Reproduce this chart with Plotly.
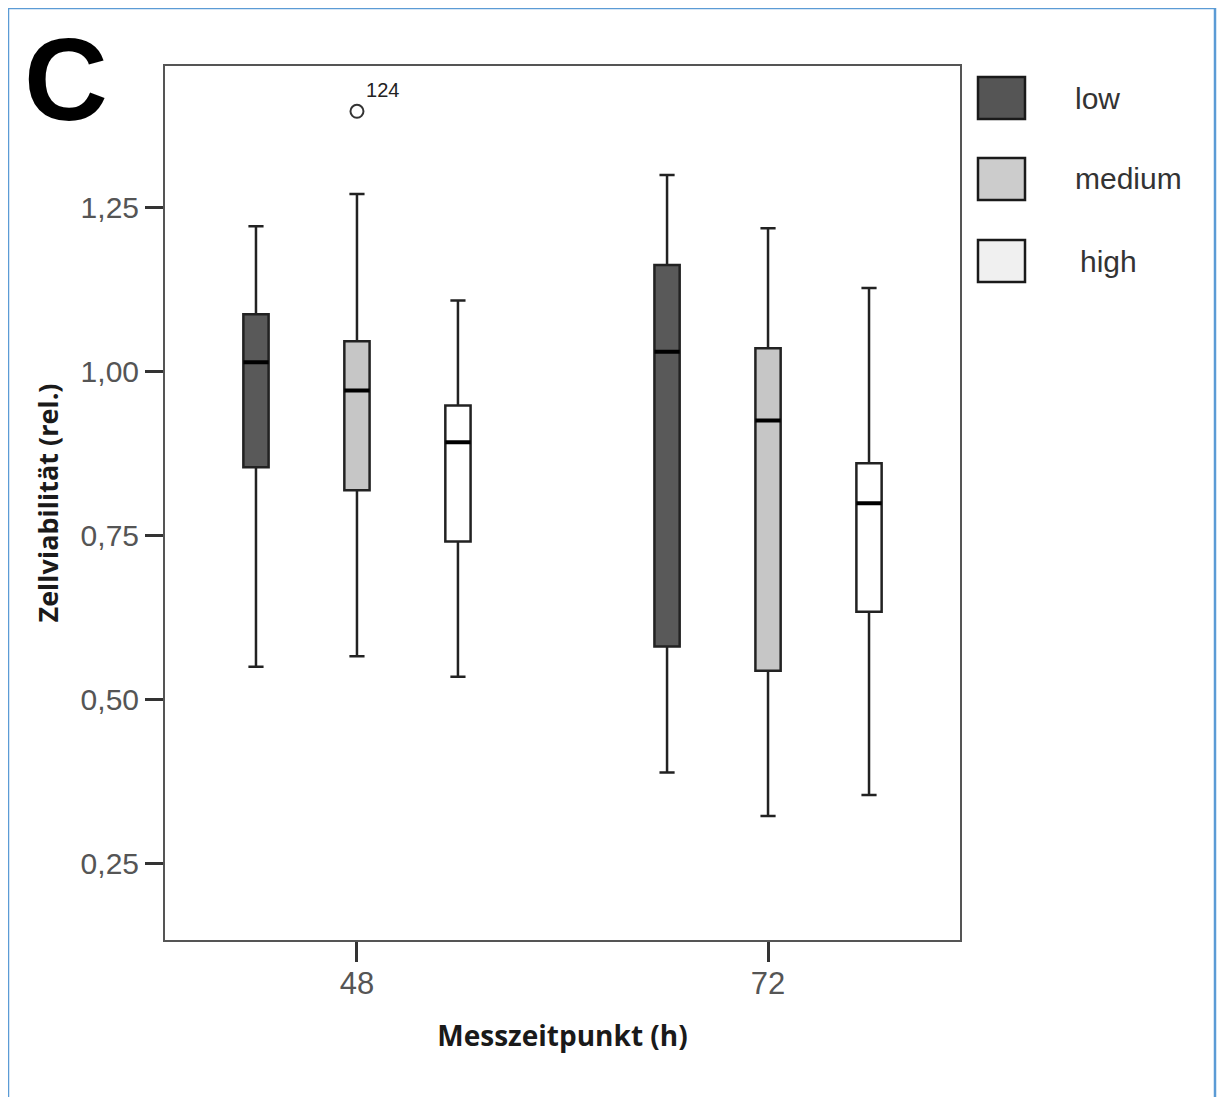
import plotly.graph_objects as go

# ---- data ----
categories = ["48", "72"]
groups = ["low", "medium", "high"]

low_lower = [0.550, 0.389]
low_q1 = [0.854, 0.581]
low_median = [1.014, 1.030]
low_q3 = [1.087, 1.162]
low_upper = [1.221, 1.299]

medium_lower = [0.566, 0.323]
medium_q1 = [0.819, 0.544]
medium_median = [0.971, 0.925]
medium_q3 = [1.046, 1.035]
medium_upper = [1.270, 1.218]

high_lower = [0.535, 0.355]
high_q1 = [0.741, 0.634]
high_median = [0.892, 0.799]
high_q3 = [0.948, 0.860]
high_upper = [1.108, 1.127]

outlier_x = ["48"]
outlier_y = [1.396]
outlier_label = ["124"]

y_ticks = [0.25, 0.50, 0.75, 1.00, 1.25]

stats = {
    "low": (low_lower, low_q1, low_median, low_q3, low_upper),
    "medium": (medium_lower, medium_q1, medium_median, medium_q3, medium_upper),
    "high": (high_lower, high_q1, high_median, high_q3, high_upper),
}
box_fill = {"low": "#595959", "medium": "#c6c6c6", "high": "#ffffff"}
legend_fill = {"low": "#555555", "medium": "#cccccc", "high": "#f0f0f0"}

fig = go.Figure()
for g in groups:
    lo, q1, med, q3, up = stats[g]
    fig.add_trace(go.Box(
        x=categories, q1=q1, median=med, q3=q3, lowerfence=lo, upperfence=up,
        name=g, offsetgroup=g, alignmentgroup="a",
        fillcolor=box_fill[g], line=dict(color="#222222", width=2.5),
        whiskerwidth=0.6, showlegend=False, boxpoints=False, hoverinfo="skip",
    ))
    # thicker median line overlay
    fig.add_trace(go.Box(
        x=categories, q1=med, median=med, q3=med, lowerfence=med, upperfence=med,
        name=g + "_med", offsetgroup=g, alignmentgroup="a",
        fillcolor="rgba(0,0,0,0)", line=dict(color="#000000", width=4),
        whiskerwidth=0, showlegend=False, boxpoints=False, hoverinfo="skip",
    ))

fig.add_trace(go.Scatter(
    x=outlier_x, y=outlier_y, mode="markers+text", text=outlier_label,
    textposition="top right", textfont=dict(size=20, color="#222222", family="Liberation Sans, Arial"),
    marker=dict(symbol="circle-open", size=13, line=dict(color="#333333", width=2), color="#333333"),
    showlegend=False, hoverinfo="skip",
))

# page body offset compensation (8px)
OFF = 8
W, H = 1226 - OFF, 1097 - OFF
L, T = 165 - OFF, 66 - OFF
R = W - L - 795
B = H - T - 874
pw = W - L - R
ph = H - T - B


def px_x(p):
    return (p - OFF - L) / pw


def px_y(p):
    return (T + ph - (p - OFF)) / ph


shapes = []
annotations = []
# custom legend
leg_rows = {"low": 98, "medium": 179, "high": 261}
leg_text_x = {"low": 1073, "medium": 1073, "high": 1078}
for g in groups:
    cy = leg_rows[g]
    shapes.append(dict(type="rect", xref="paper", yref="paper",
                       x0=px_x(978), x1=px_x(1025), y0=px_y(cy + 21), y1=px_y(cy - 21),
                       fillcolor=legend_fill[g], line=dict(color="#1a1a1a", width=2.5)))
    annotations.append(dict(xref="paper", yref="paper", x=px_x(leg_text_x[g]), y=px_y(cy),
                            text=g, showarrow=False, xanchor="left", yanchor="middle",
                            font=dict(size=30, color="#333333", family="Liberation Sans, Arial")))

# outer blue frame
shapes.append(dict(type="rect", xref="paper", yref="paper",
                   x0=px_x(8), x1=px_x(1215), y0=px_y(1120), y1=px_y(8),
                   line=dict(color="#5b9bd5", width=2.5), fillcolor="rgba(0,0,0,0)", layer="below"))

annotations.append(dict(xref="paper", yref="paper", x=px_x(66), y=px_y(80), text="<b>C</b>",
                        showarrow=False, xanchor="center", yanchor="middle",
                        font=dict(size=116, color="#000000", family="Liberation Sans, Arial")))

fig.update_layout(
    width=W, height=H,
    margin=dict(l=L, r=R, t=T, b=B, autoexpand=False),
    paper_bgcolor="white", plot_bgcolor="white",
    boxmode="group", boxgap=0.263, boxgroupgap=0.75,
    separators=",.",
    shapes=shapes, annotations=annotations,
    showlegend=False,
    font=dict(family="Liberation Sans, Arial", color="#555555"),
)
fig.update_xaxes(
    type="category", range=[-0.467, 1.467],
    showline=True, mirror=True, linecolor="#555555", linewidth=2,
    ticks="outside", ticklen=20, tickwidth=2.5, tickcolor="#333333",
    ticklabelstandoff=-5,
    showgrid=False, zeroline=False,
    tickfont=dict(size=31, color="#555555"),
    title=dict(text="<b>Messzeitpunkt (h)</b>", font=dict(size=28, color="#1a1a1a", family="Open Sans, Liberation Sans"), standoff=26),
)
fig.update_yaxes(
    range=[0.134, 1.465], tickvals=y_ticks, tickformat=".2f",
    showline=True, mirror=True, linecolor="#555555", linewidth=2,
    ticks="outside", ticklen=18, tickwidth=2.5, tickcolor="#333333",
    showgrid=False, zeroline=False,
    tickfont=dict(size=30, color="#555555"),
    title=dict(text="<b>Zellviabilität (rel.)</b>", font=dict(size=27, color="#1a1a1a", family="Open Sans, Liberation Sans"), standoff=14),
)

fig.write_html("out.html")
